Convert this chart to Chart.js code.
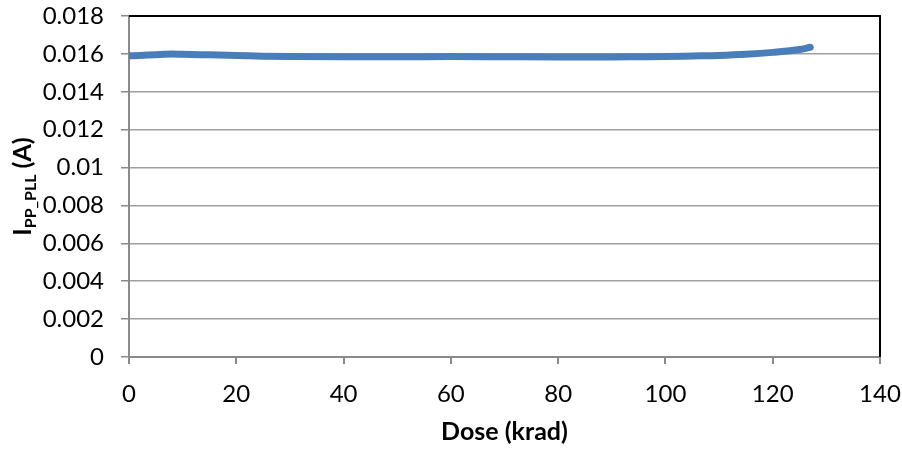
<!DOCTYPE html>
<html>
<head>
<meta charset="utf-8">
<script src="https://cdn.jsdelivr.net/npm/chart.js@4"></script>
<style>
  html, body { margin: 0; padding: 0; background: #fff; }
  #wrap { width: 902px; height: 451px; position: relative; }
</style>
</head>
<body>
<div id="wrap"><canvas id="c" width="902" height="451"></canvas></div>
<script>
// Data
const doseKrad = [0, 2, 5, 8, 10, 15, 20, 25, 30, 40, 50, 60, 70, 80, 90, 95, 100, 105, 110, 115, 120, 125, 127];
const currentA = [0.01590, 0.01592, 0.01596, 0.01599, 0.01598, 0.01595, 0.01592, 0.01588, 0.01586, 0.01585, 0.01585, 0.01586, 0.01585, 0.01584, 0.01584, 0.01585, 0.01586, 0.01589, 0.01592, 0.01598, 0.01608, 0.01623, 0.01635];
const xTickLabels = ['0', '20', '40', '60', '80', '100', '120', '140'];
const yTickLabels = ['0', '0.002', '0.004', '0.006', '0.008', '0.01', '0.012', '0.014', '0.016', '0.018'];
const xTitle = 'Dose (krad)';
const yTitleMain = 'I';
const yTitleSub = 'PP_PLL';
const yTitleTail = ' (A)';

const FONT = 'Lato, "Open Sans", sans-serif';

const points = doseKrad.map((x, i) => ({ x: x, y: currentA[i] }));

const frame = {
  id: 'frame',
  afterDraw(chart) {
    const { ctx, chartArea: a } = chart;
    ctx.save();
    // top and right border
    ctx.strokeStyle = '#000';
    ctx.lineWidth = 2;
    ctx.beginPath();
    ctx.moveTo(a.left, a.top);
    ctx.lineTo(a.right, a.top);
    ctx.lineTo(a.right, a.bottom);
    ctx.stroke();
    // x title
    ctx.fillStyle = '#000';
    ctx.font = 'bold 25px ' + FONT;
    ctx.textAlign = 'center';
    ctx.textBaseline = 'middle';
    ctx.fillText(xTitle, (a.left + a.right) / 2, 432);
    // y title with subscript
    const mainFont = 'bold 25px ' + FONT;
    const subFont = 'bold 16px ' + FONT;
    ctx.font = mainFont; const w1 = ctx.measureText(yTitleMain).width;
    const w3 = ctx.measureText(yTitleTail).width;
    ctx.font = subFont; const w2 = ctx.measureText(yTitleSub).width;
    const total = w1 + w2 + w3;
    ctx.translate(31, (a.top + a.bottom) / 2);
    ctx.rotate(-Math.PI / 2);
    ctx.textAlign = 'left';
    ctx.textBaseline = 'alphabetic';
    let x = -total / 2;
    ctx.font = mainFont; ctx.fillText(yTitleMain, x, 0); x += w1;
    ctx.font = subFont; ctx.fillText(yTitleSub, x, 5); x += w2;
    ctx.font = mainFont; ctx.fillText(yTitleTail, x, 0);
    ctx.restore();
  }
};

new Chart(document.getElementById('c'), {
  type: 'scatter',
  data: {
    datasets: [{
      data: points,
      showLine: true,
      borderColor: '#4a7ebb',
      backgroundColor: '#4a7ebb',
      borderWidth: 7,
      borderCapStyle: 'round',
      borderJoinStyle: 'round',
      pointRadius: 0,
      tension: 0.4,
      cubicInterpolationMode: 'monotone'
    }]
  },
  options: {
    responsive: false,
    animation: false,
    devicePixelRatio: 1,
    layout: { padding: { left: 0, right: 22, top: 16, bottom: 0 } },
    plugins: { legend: { display: false }, tooltip: { enabled: false } },
    scales: {
      x: {
        type: 'linear',
        min: 0, max: 140,
        afterFit(s) { s.height = 94; s.paddingLeft = 0; s.paddingRight = 0; },
        afterBuildTicks(s) { s.ticks = xTickLabels.map(v => ({ value: Number(v) })); },
        ticks: {
          color: '#000',
          font: { family: FONT, size: 24 },
          padding: 16,
          maxRotation: 0,
          callback: (v, i) => xTickLabels[i]
        },
        grid: {
          drawOnChartArea: false,
          drawTicks: true,
          tickLength: 7,
          color: '#8a8a8a',
          lineWidth: 2
        },
        border: { display: true, color: '#8a8a8a', width: 2 }
      },
      y: {
        type: 'linear',
        min: 0, max: 0.018,
        afterFit(s) { s.width = 129; s.paddingTop = 0; s.paddingBottom = 0; },
        afterBuildTicks(s) { s.ticks = yTickLabels.map(v => ({ value: Number(v) })); },
        ticks: {
          color: '#000',
          font: { family: FONT, size: 24 },
          padding: 17,
          callback: (v, i) => yTickLabels[i]
        },
        grid: {
          drawTicks: true,
          tickLength: 8,
          color: '#a0a0a0',
          lineWidth: 1.5,
          tickColor: '#8a8a8a'
        },
        border: { display: true, color: '#8a8a8a', width: 2 }
      }
    }
  },
  plugins: [frame]
});
</script>
</body>
</html>
